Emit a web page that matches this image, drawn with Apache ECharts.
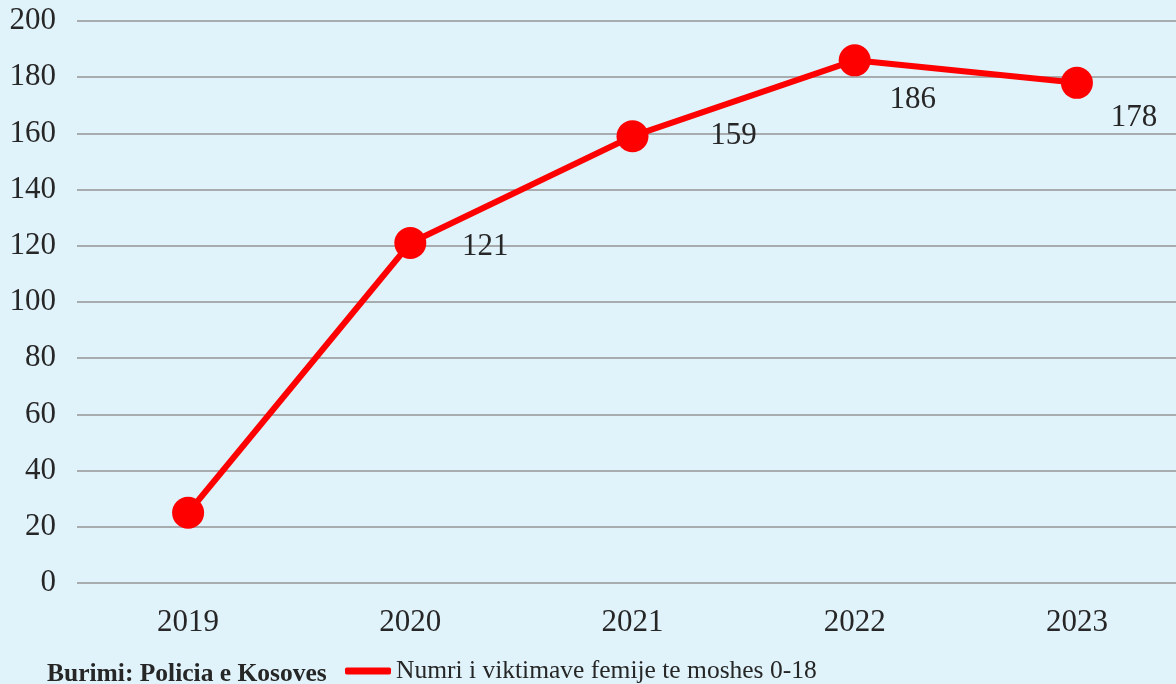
<!DOCTYPE html>
<html><head><meta charset="utf-8">
<script src="https://cdn.jsdelivr.net/npm/echarts@6/dist/echarts.min.js"></script>
<style>html,body{margin:0;padding:0;background:#e0f2fa}#c{width:1176px;height:684px}</style>
</head><body><div id="c"></div>
<script>
const categories = ['2019', '2020', '2021', '2022', '2023'];
const values = [25, 121, 159, 186, 178];
const yTicks = [0, 20, 40, 60, 80, 100, 120, 140, 160, 180, 200];
const seriesName = 'Numri i viktimave femije te moshes 0-18';
const sourceText = 'Burimi: Policia e Kosoves';

const labelOffsets = [null, [75, 4], [101, 0], [58, 40], [57, 35]];
const FONT = 'Liberation Serif';
const chart = echarts.init(document.getElementById('c'));
chart.setOption({
  backgroundColor: '#e0f2fa',
  textStyle: { fontFamily: FONT },
  grid: { left: 77, top: 21, right: -12, bottom: 101, outerBoundsMode: 'none', containLabel: false },
  xAxis: {
    type: 'category', data: categories,
    axisLine: { show: false }, axisTick: { show: false },
    axisLabel: { fontSize: 31, color: '#262626', margin: 24, fontFamily: FONT }
  },
  yAxis: {
    type: 'value', min: yTicks[0], max: yTicks[yTicks.length - 1], interval: 20,
    axisLine: { show: false }, axisTick: { show: false },
    axisLabel: { fontSize: 31, color: '#262626', margin: 21, fontFamily: FONT },
    splitLine: { lineStyle: { color: '#a8acaf', width: 2 } }
  },
  legend: {
    bottom: -5, left: 340, itemWidth: 46, itemHeight: 7, icon: 'roundRect',
    itemGap: 11,
    textStyle: { fontSize: 25.5, color: '#262626', fontFamily: FONT },
    data: [seriesName]
  },
  graphic: [{
    type: 'text', left: 47, bottom: -3,
    style: { text: sourceText, font: 'bold 25.5px "' + FONT + '"', fill: '#262626' }
  }],
  series: [{
    name: seriesName, type: 'line', data: values.map((v, i) => ({
      value: v,
      label: labelOffsets[i] ? { show: true, offset: labelOffsets[i] } : { show: false }
    })),
    color: '#ff0000',
    lineStyle: { width: 6, color: '#ff0000' },
    symbol: 'circle', symbolSize: 32,
    itemStyle: { color: '#ff0000' },
    label: { position: 'inside', fontSize: 31, color: '#262626', fontFamily: FONT },
    animation: false
  }]
});
</script></body></html>
